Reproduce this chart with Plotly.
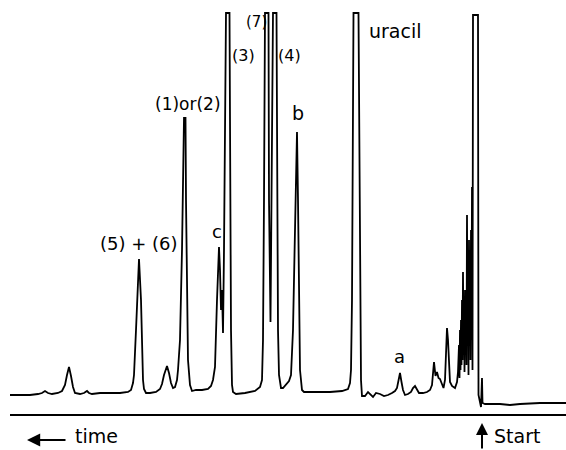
import plotly.graph_objects as go

# Chromatogram trace: x = chart position, y = pen position (page units, 0 = top)
trace_x = [10, 20, 30, 38, 42, 45, 48, 52, 58, 62, 65, 67, 69, 71, 73, 75, 80, 84, 87, 89, 92, 100, 110, 120,
           128, 131, 133, 134, 136, 139, 141, 142, 143, 144, 146, 150, 156, 160, 162, 164, 167, 169, 171, 173,
           175, 177, 178, 180, 182, 184, 185.5, 186, 187, 188, 190, 192, 196, 202, 208, 211, 213, 214, 215,
           217, 219, 220, 221, 222, 223, 224, 225, 226, 229.5, 230, 231, 232, 233, 236, 245, 255, 260, 262,
           263, 264, 265, 268.5, 269, 270.5, 271.5, 273, 276.5, 277, 278, 279, 281, 283, 286, 289, 291, 293,
           295, 297, 298, 299, 300, 302, 304, 315, 330, 342, 348, 350, 351, 352, 353.5, 358.5, 360, 361, 362,
           365, 368, 371, 373, 376, 380, 384, 388, 392, 395, 397, 398.5, 400, 401.5, 403, 405, 408, 411, 413,
           415, 417, 419, 423, 427, 430, 432, 434, 435.5, 437, 438.5, 440, 442, 443.5, 445, 446, 447, 448,
           449, 450, 452, 455, 457, 458, 459, 459.5, 460, 460.5, 461, 461.5, 462, 462.5, 463, 463.5, 464,
           464.5, 465, 465.5, 466, 466.5, 467, 467.5, 468, 468.5, 469, 469.5, 470, 470.5, 471, 471.5, 472,
           472.5, 473, 478, 478.5, 479.5, 481, 482, 482.5, 485, 500, 510, 520, 540, 566]
trace_y = [395, 395, 395, 394, 393, 391, 393, 394, 393, 391, 385, 375, 367, 376, 387, 393, 394, 393, 391, 393,
           394, 393, 393, 393, 392, 390, 383, 375, 330, 259, 300, 350, 380, 389, 393, 393, 392, 389, 384, 375,
           366, 373, 383, 388, 387, 380, 370, 340, 250, 118, 118, 200, 300, 360, 385, 391, 390, 390, 389, 386,
           380, 374, 367, 300, 247, 270, 310, 290, 333, 250, 150, 13, 13, 150, 330, 385, 392, 394, 393, 391,
           387, 380, 340, 200, 13, 13, 200, 322, 200, 13, 13, 200, 330, 375, 388, 388, 385, 381, 375, 330,
           230, 132, 200, 300, 370, 390, 392, 392, 392, 391, 389, 383, 370, 300, 13, 13, 300, 380, 396,
           396, 392, 395, 397, 393, 394, 396, 395, 393, 391, 388, 380, 373, 382, 390, 395, 394, 392, 388,
           386, 390, 393, 393, 392, 390, 385, 362, 376, 372, 378, 379, 385, 388, 380, 360, 328, 340,
           370, 382, 386, 388, 382, 372, 345, 378, 330, 370, 320, 365, 300, 360, 272, 355, 310,
           372, 290, 350, 300, 365, 215, 340, 250, 375, 240, 330, 250, 360, 230, 340, 187,
           370, 15, 15, 395, 400, 407, 378, 403, 404, 404, 405, 404, 403, 403]

# Peak labels
label_text = ["(5) + (6)", "c", "(1)or(2)", "(3)", "(7)", "(4)", "b", "uracil", "a"]
label_x = [139, 217, 188, 243, 256, 289, 297.5, 395, 399]
label_y = [243, 231, 104, 55, 22, 55, 113, 31, 356]
label_size = [18, 18, 17, 16, 15, 16, 19, 19, 18]

W, H = 566, 450
FONT = "DejaVu Sans"

fig = go.Figure()
fig.add_trace(go.Scatter(x=trace_x, y=trace_y, mode="lines",
                         line=dict(color="black", width=1.8), hoverinfo="skip"))

# baseline (time axis)
fig.add_shape(type="line", x0=10, x1=566, y0=415, y1=415, xref="x", yref="y",
              line=dict(color="black", width=2))

for t, x, y, s in zip(label_text, label_x, label_y, label_size):
    fig.add_annotation(x=x, y=y, text=t, showarrow=False, xanchor="center", yanchor="middle",
                       font=dict(family=FONT, size=s, color="black"))

# "<- time"
fig.add_annotation(x=27, y=440, ax=67, ay=440, axref="x", ayref="y", xref="x", yref="y",
                   text="", showarrow=True, arrowhead=2, arrowsize=1.2, arrowwidth=2.2, arrowcolor="black")
fig.add_annotation(x=96, y=449, text="time", showarrow=False, xanchor="center", yanchor="bottom",
                   font=dict(family=FONT, size=19, color="black"))
# "^ Start"
fig.add_annotation(x=482, y=423, ax=482, ay=450, axref="x", ayref="y", xref="x", yref="y",
                   text="", showarrow=True, arrowhead=2, arrowsize=1.2, arrowwidth=2, arrowcolor="black")
fig.add_annotation(x=517, y=449, text="Start", showarrow=False, xanchor="center", yanchor="bottom",
                   font=dict(family=FONT, size=19, color="black"))

fig.update_layout(width=W, height=H, margin=dict(l=0, r=0, t=0, b=0),
                  paper_bgcolor="white", plot_bgcolor="white", showlegend=False)
fig.update_xaxes(range=[0, W], visible=False, fixedrange=True)
fig.update_yaxes(range=[H, 0], visible=False, fixedrange=True)

fig.write_html("out.html", config={"displayModeBar": False},
               post_script="document.body.style.margin='0';document.body.style.padding='0';")
